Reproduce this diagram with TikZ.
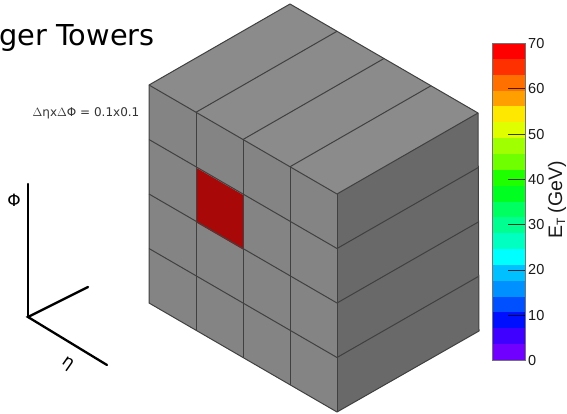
\documentclass[tikz,border=0pt]{standalone}
\usepackage{fontspec}
\setmainfont{DejaVu Sans}
\newfontfamily\barfont{Liberation Sans}
\usepackage{xcolor}
\definecolor{facefront}{HTML}{848484}
\definecolor{facetop}{HTML}{8B8B8B}
\definecolor{faceside}{HTML}{696969}
\definecolor{towerhit}{HTML}{A80808}
\definecolor{edgedark}{HTML}{404040}
\begin{document}
\begin{tikzpicture}[x=1pt,y=-1pt,
 edge/.style={draw=edgedark,line width=1pt,line join=round},
 axisline/.style={draw=black,line width=2.3pt,line cap=round},
 barlabel/.style={font=\barfont\fontsize{14.5}{16}\selectfont,text=black!90,anchor=west,inner sep=0pt}]
\useasboundingbox (0,0) rectangle (567,413);
% cube corners
\coordinate (fl) at (149,85);
\coordinate (ft) at (337,194);
\coordinate (rt) at (478,113);
\coordinate (bt) at (290,4);
\coordinate (lb) at (149,303);
\coordinate (fb) at (337,412);
\coordinate (rb) at (479,331);
% faces
\fill[facefront] (fl) -- (ft) -- (fb) -- (lb) -- cycle;
\fill[facetop] (fl) -- (bt) -- (rt) -- (ft) -- cycle;
\fill[faceside] (ft) -- (rt) -- (rb) -- (fb) -- cycle;
\fill[towerhit] (196,167.75) -- (243,195) -- (243,249.5) -- (196,222.25) -- cycle;
% tower edges
\foreach \i in {1,2,3} {
 \draw[edge] (149+47*\i,85+27.25*\i) -- (149+47*\i,303+27.25*\i);
 \draw[edge] (149+47*\i,85+27.25*\i) -- (290+47*\i,4+27.25*\i);
 \draw[edge] (149,85+54.5*\i) -- (337,194+54.5*\i) -- (478.3,113+54.5*\i);
}
\draw[edge] (fl) -- (bt) -- (rt) -- (rb) -- (fb) -- (lb) -- cycle;
\draw[edge] (fl) -- (ft) -- (rt);
\draw[edge] (ft) -- (fb);
% colour bar
\foreach \bandcol [count=\i from 0] in {FF0000,FF3000,FF7000,FFA000,FFE800,DFFF00,A0FF00,70FF00,20FF00,00FF20,
 00FF60,00FF90,00FFC0,00FFFF,00C0FF,0090FF,0050FF,0010FF,4000FF,7000FF} {
 \definecolor{bandtmp}{HTML}{\bandcol}
 \fill[bandtmp] (492,43+15.85*\i) rectangle (525,43+15.85*\i+16.1);
}
\draw[draw=black!55,line width=0.6pt] (492,43) rectangle (525,360);
\foreach \tick/\lab in {0/70,1/60,2/50,3/40,4/30,5/20,6/10,7/0} {
 \node[barlabel] (lab\lab) at (528,43.5+45.3*\tick) {\lab};
}
\foreach \tick in {1,...,6} {
 \draw[black,line width=0.7pt,opacity=0.75] (508,43.5+45.3*\tick) -- (525,43.5+45.3*\tick);
}
\node[font=\barfont\fontsize{19.5}{22}\selectfont,rotate=90,inner sep=0pt,text=black!90] (etlabel) at (557,200) {E\raisebox{-3pt}{\fontsize{12}{13}\selectfont T} (GeV)};
% labels
\begin{scope}
\clip (0,0) rectangle (567,413);
\node[font=\fontsize{28.8}{32}\selectfont,anchor=base west,inner sep=0pt,text=black] (title) at (-1,45.7) {ger Towers};
\end{scope}
\node[font=\fontsize{12}{14}\selectfont,text=black!80,inner sep=0pt] (granularity) at (86,113.5) {$\Delta$η{}x$\Delta$Φ = 0.1x0.1};
% axes
\coordinate (orig) at (28,317);
\coordinate (phiend) at (28,184);
\coordinate (depthend) at (88,287);
\coordinate (etaend) at (107,365);
\draw[axisline] (phiend) -- (orig);
\draw[axisline] (depthend) -- (orig) -- (etaend);
\node[font=\fontsize{17}{18}\selectfont,inner sep=0pt] (philabel) at (14,200) {Φ};
\node[font=\fontsize{17}{18}\selectfont,inner sep=0pt,rotate=-35] (etalabel) at (68,364) {η};
\end{tikzpicture}
\end{document}
